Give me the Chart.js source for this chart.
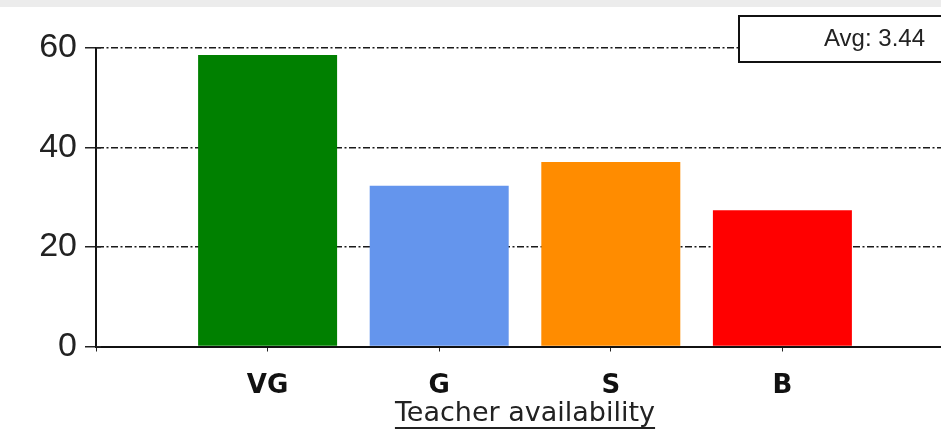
<!DOCTYPE html>
<html>
<head>
<meta charset="utf-8">
<script src="https://cdn.jsdelivr.net/npm/chart.js@4/dist/chart.umd.min.js"></script>
<style>
  html, body { margin: 0; padding: 0; background: #fff; overflow: hidden; }
  #strip { height: 7px; background: #ececec; }
  #wrap { position: relative; width: 973px; height: 424px; }
</style>
</head>
<body>
<div id="strip"></div>
<div id="wrap"><canvas id="bar-chart"></canvas></div>
<script>
// 類別（前後各留一個空位，讓長條置中於座標軸）
var CATEGORIES = ['', 'VG', 'G', 'S', 'B', ''];
var VALUES     = [null, 58.6, 32.3, 37.1, 27.4, null];
var BAR_COLORS = ['#000', '#008000', '#6495ed', '#ff8c00', '#ff0000', '#000'];
var Y_TICKS    = [0, 20, 40, 60];
var AXIS_TITLE = 'Teacher availability';
var AVG_VALUE  = 3.44;

/* --------------------------------------------------
   右上角平均值方框、y 軸刻度內側短線、軸標題底線
   -------------------------------------------------- */
var extrasPlugin = {
  id: 'extras',
  afterDraw: function (chart) {
    var ctx = chart.ctx;
    var y = chart.scales.y;
    var x = chart.scales.x;
    ctx.save();

    // y 軸刻度穿過軸線
    ctx.fillStyle = '#222';
    Y_TICKS.forEach(function (v) {
      var py = Math.round(y.getPixelForValue(v));
      ctx.fillRect(y.right, py - 1, 5, 1.5);
    });

    // 平均值方框
    ctx.fillStyle = '#fff';
    ctx.fillRect(738, 8, 240, 47);
    ctx.strokeStyle = '#111';
    ctx.lineWidth = 2;
    ctx.strokeRect(739, 9, 240, 46);
    ctx.fillStyle = '#222';
    ctx.font = '24px "Liberation Sans", Arial, sans-serif';
    ctx.textAlign = 'right';
    ctx.textBaseline = 'middle';
    ctx.fillText('Avg: ' + AVG_VALUE.toFixed(2), 925, 32);

    // 軸標題底線
    ctx.font = '27px "DejaVu Sans", sans-serif';
    var w = ctx.measureText(AXIS_TITLE).width;
    var cx = (x.left + x.right) / 2;
    ctx.fillStyle = '#222';
    ctx.fillRect(cx - w / 2, 420, w, 2);

    ctx.restore();
  },
};

var chart = new Chart(document.getElementById('bar-chart'), {
  type: 'bar',
  data: {
    labels: CATEGORIES,
    datasets: [{
      data:            VALUES,
      backgroundColor: BAR_COLORS,
      borderWidth:     0,
      barPercentage:   0.81,
      categoryPercentage: 1,
    }],
  },
  options: {
    responsive:          true,
    maintainAspectRatio: false,
    animation:           false,
    layout: { padding: { top: 41, right: 6.5, left: 0, bottom: 0 } },
    plugins: {
      legend:  { display: false },
      tooltip: { enabled: false },
    },
    scales: {
      x: {
        offset: false,
        afterFit: function (s) { s.height = 84.5; },
        grid: {
          offset:          false,
          drawOnChartArea: false,
          drawTicks:       true,
          tickLength:      5,
          tickColor:       '#222',
          tickWidth:       1,
        },
        border: { color: '#111', width: 2 },
        ticks: {
          color:       '#111',
          padding:     19,
          maxRotation: 0,
          autoSkip:    false,
          font: { family: '"DejaVu Sans", sans-serif', size: 26, weight: 'bold' },
        },
        title: {
          display: true,
          text:    AXIS_TITLE,
          color:   '#222',
          font:    { family: '"DejaVu Sans", sans-serif', size: 27 },
          padding: { top: 0, bottom: 1 },
        },
      },
      y: {
        min: 0,
        max: 60,
        afterFit: function (s) { s.width = 96; },
        afterBuildTicks: function (s) {
          s.ticks = Y_TICKS.map(function (v) { return { value: v }; });
        },
        grid: {
          color: function (c) { return c.tick && c.tick.value === 0 ? 'rgba(0,0,0,0)' : '#1a1a1a'; },
          lineWidth:      1.5,
          tickColor:      '#222',
          tickWidth:      1.5,
          tickBorderDash: [],
          tickLength:     11,
        },
        border: { color: '#111', width: 2, dash: [7, 2.5, 2, 2.5] },
        ticks: {
          color:   '#222',
          padding: 8,
          font: { family: '"Liberation Sans", Arial, sans-serif', size: 34 },
        },
      },
    },
  },
  plugins: [extrasPlugin],
});
</script>
</body>
</html>
